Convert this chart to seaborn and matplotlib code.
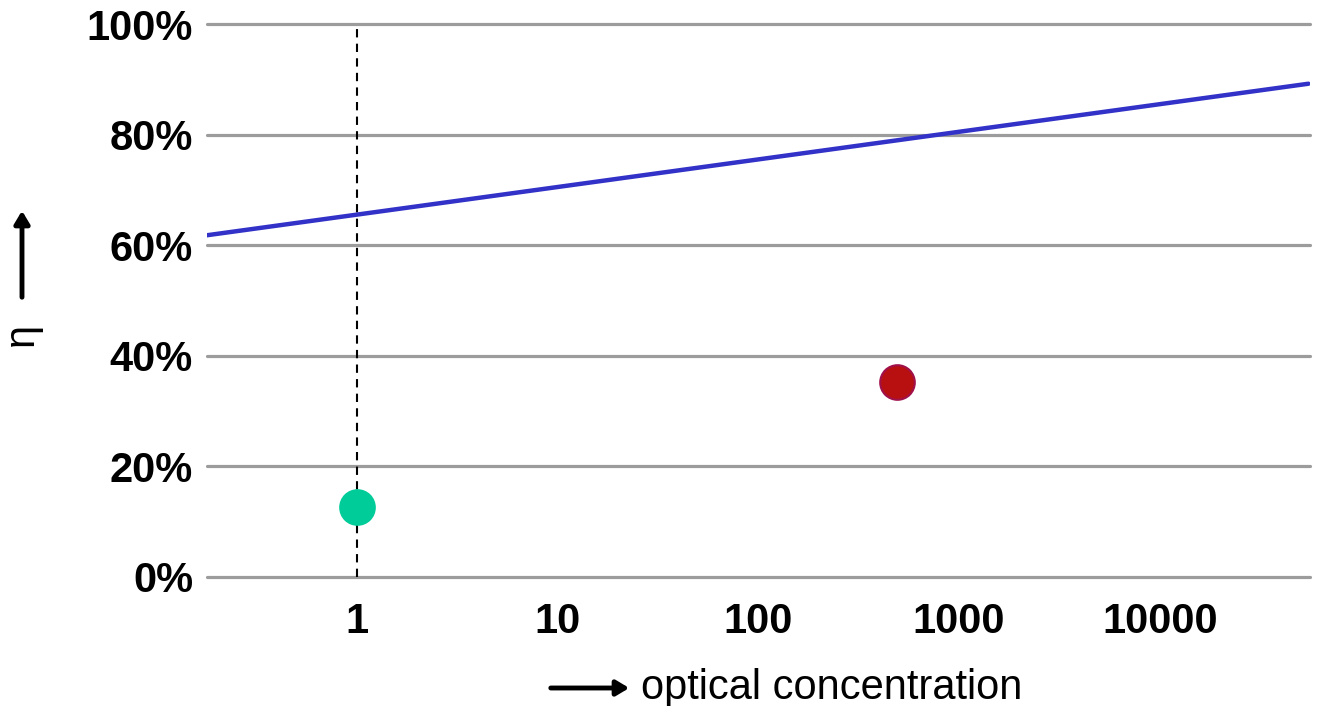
import matplotlib
matplotlib.use("Agg")
import matplotlib.pyplot as plt
import seaborn as sns
import pandas as pd

# Data
line_x = [0.18, 55000]
line_y = [61.8, 89.2]
point_x = [1, 490]
point_y = [12.7, 35.3]
point_names = ["1 sun", "concentrated"]
point_colors = ["#00cc99", "#b81010"]
point_edges = ["#00cc99", "#a0104a"]
y_ticks = [0, 20, 40, 60, 80, 100]
y_tick_labels = ["0%", "20%", "40%", "60%", "80%", "100%"]
x_ticks = [1, 10, 100, 1000, 10000]
x_tick_labels = ["1", "10", "100", "1000", "10000"]

sns.set_theme(style="white")
plt.rcParams['font.family'] = ['Liberation Sans', 'DejaVu Sans']
plt.rcParams['text.color'] = 'black'
plt.rcParams['xtick.color'] = 'black'
plt.rcParams['ytick.color'] = 'black'
plt.rcParams['xtick.labelcolor'] = 'black'
plt.rcParams['ytick.labelcolor'] = 'black'

W, H = 1321, 706
fig = plt.figure(figsize=(W / 100, H / 100), dpi=100)
ax = fig.add_axes([207 / W, (H - 577) / H, (1310 - 207) / W, (577 - 24) / H])

ax.set_xscale("log")
ax.set_xlim(0.18, 56000)
ax.set_ylim(0, 100)

for yv in y_ticks:
    ax.axhline(yv, color="#9c9c9c", lw=2.3, zorder=1, clip_on=False)

ax.axvline(1, color="black", lw=1.5, ls=(0, (4, 3)), zorder=2, clip_on=False)

line_df = pd.DataFrame({"x": line_x, "y": line_y})
sns.lineplot(data=line_df, x="x", y="y", ax=ax, color="#3232c8", lw=3.2, zorder=3)

pts = pd.DataFrame({"x": point_x, "y": point_y, "name": point_names})
for i, row in pts.iterrows():
    sns.scatterplot(x=[row["x"]], y=[row["y"]], ax=ax, s=620, color=point_colors[i],
                    edgecolor=point_edges[i], linewidth=1.5, zorder=4, legend=False)

for s in ax.spines.values():
    s.set_visible(False)
ax.set_yticks(y_ticks)
ax.set_yticklabels(y_tick_labels, fontsize=30, fontweight="bold", color="black")
ax.set_xticks(x_ticks)
ax.set_xticklabels(x_tick_labels, fontsize=30, fontweight="bold", color="black")
ax.minorticks_off()
ax.tick_params(axis="y", length=0, pad=10)
ax.tick_params(axis="x", length=0, pad=18)
ax.set_xlabel("")
ax.set_ylabel("")
ax.grid(False)

# x label with arrow
fig.text(641 / W, 1 - 688 / H, "optical concentration", fontsize=30, ha="left", va="center", color="black")
fig.patches.append(matplotlib.patches.FancyArrowPatch(
    (548 / W, 1 - 688 / H), (632 / W, 1 - 688 / H), transform=fig.transFigure,
    arrowstyle="-|>,head_length=5,head_width=3", lw=3.5, color="black", mutation_scale=1.5))

# y label with arrow
fig.text(22 / W, 1 - 334 / H, "η", fontsize=30, rotation=90, ha="center", va="center", color="black")
fig.patches.append(matplotlib.patches.FancyArrowPatch(
    (22 / W, 1 - 300 / H), (22 / W, 1 - 208 / H), transform=fig.transFigure,
    arrowstyle="-|>,head_length=5,head_width=3", lw=3.5, color="black", mutation_scale=1.5))

fig.savefig("out.png", dpi=100, facecolor="white")
